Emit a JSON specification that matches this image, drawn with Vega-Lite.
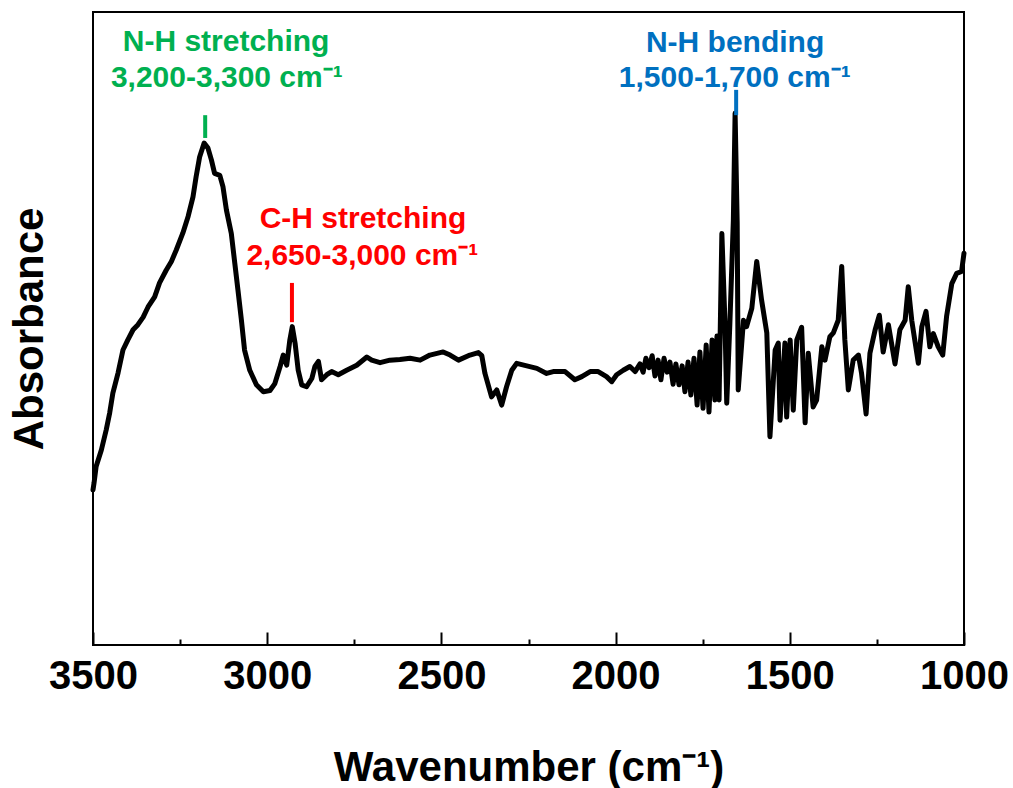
{
  "$schema": "https://vega.github.io/schema/vega-lite/v6.json",
  "width": 871,
  "height": 633,
  "autosize": {"type": "none"},
  "padding": {"left": 93, "top": 12, "right": 49, "bottom": 143},
  "config": {
    "view": {"stroke": "#000", "strokeWidth": 2},
    "axis": {"grid": false},
    "font": "Liberation Sans"
  },
  "datasets": {
    "spectrum": [
      {"wavenumber": 3500, "absorbance": 0.245},
      {"wavenumber": 3497, "absorbance": 0.256},
      {"wavenumber": 3491, "absorbance": 0.282},
      {"wavenumber": 3476, "absorbance": 0.308},
      {"wavenumber": 3462, "absorbance": 0.340},
      {"wavenumber": 3452, "absorbance": 0.367},
      {"wavenumber": 3443, "absorbance": 0.398},
      {"wavenumber": 3428, "absorbance": 0.430},
      {"wavenumber": 3414, "absorbance": 0.466},
      {"wavenumber": 3400, "absorbance": 0.482},
      {"wavenumber": 3385, "absorbance": 0.498},
      {"wavenumber": 3371, "absorbance": 0.506},
      {"wavenumber": 3356, "absorbance": 0.518},
      {"wavenumber": 3342, "absorbance": 0.534},
      {"wavenumber": 3323, "absorbance": 0.550},
      {"wavenumber": 3309, "absorbance": 0.572},
      {"wavenumber": 3290, "absorbance": 0.592},
      {"wavenumber": 3275, "absorbance": 0.606},
      {"wavenumber": 3261, "absorbance": 0.624},
      {"wavenumber": 3242, "absorbance": 0.651},
      {"wavenumber": 3227, "absorbance": 0.677},
      {"wavenumber": 3213, "absorbance": 0.708},
      {"wavenumber": 3204, "absorbance": 0.740},
      {"wavenumber": 3194, "absorbance": 0.771},
      {"wavenumber": 3181, "absorbance": 0.793},
      {"wavenumber": 3170, "absorbance": 0.785},
      {"wavenumber": 3160, "absorbance": 0.766},
      {"wavenumber": 3151, "absorbance": 0.745},
      {"wavenumber": 3136, "absorbance": 0.742},
      {"wavenumber": 3127, "absorbance": 0.724},
      {"wavenumber": 3117, "absorbance": 0.687},
      {"wavenumber": 3103, "absorbance": 0.650},
      {"wavenumber": 3093, "absorbance": 0.603},
      {"wavenumber": 3084, "absorbance": 0.561},
      {"wavenumber": 3074, "absorbance": 0.513},
      {"wavenumber": 3065, "absorbance": 0.466},
      {"wavenumber": 3050, "absorbance": 0.434},
      {"wavenumber": 3031, "absorbance": 0.411},
      {"wavenumber": 3011, "absorbance": 0.400},
      {"wavenumber": 2992, "absorbance": 0.402},
      {"wavenumber": 2978, "absorbance": 0.413},
      {"wavenumber": 2963, "absorbance": 0.440},
      {"wavenumber": 2954, "absorbance": 0.458},
      {"wavenumber": 2944, "absorbance": 0.442},
      {"wavenumber": 2935, "absorbance": 0.482},
      {"wavenumber": 2928, "absorbance": 0.503},
      {"wavenumber": 2920, "absorbance": 0.477},
      {"wavenumber": 2911, "absorbance": 0.434},
      {"wavenumber": 2901, "absorbance": 0.411},
      {"wavenumber": 2887, "absorbance": 0.408},
      {"wavenumber": 2872, "absorbance": 0.421},
      {"wavenumber": 2863, "absorbance": 0.440},
      {"wavenumber": 2853, "absorbance": 0.448},
      {"wavenumber": 2844, "absorbance": 0.419},
      {"wavenumber": 2829, "absorbance": 0.427},
      {"wavenumber": 2815, "absorbance": 0.432},
      {"wavenumber": 2796, "absorbance": 0.427},
      {"wavenumber": 2772, "absorbance": 0.434},
      {"wavenumber": 2743, "absorbance": 0.442},
      {"wavenumber": 2714, "absorbance": 0.455},
      {"wavenumber": 2700, "absorbance": 0.450},
      {"wavenumber": 2676, "absorbance": 0.446},
      {"wavenumber": 2648, "absorbance": 0.450},
      {"wavenumber": 2619, "absorbance": 0.451},
      {"wavenumber": 2590, "absorbance": 0.453},
      {"wavenumber": 2561, "absorbance": 0.450},
      {"wavenumber": 2533, "absorbance": 0.458},
      {"wavenumber": 2495, "absorbance": 0.463},
      {"wavenumber": 2475, "absorbance": 0.458},
      {"wavenumber": 2451, "absorbance": 0.450},
      {"wavenumber": 2418, "absorbance": 0.458},
      {"wavenumber": 2394, "absorbance": 0.462},
      {"wavenumber": 2384, "absorbance": 0.457},
      {"wavenumber": 2375, "absorbance": 0.429},
      {"wavenumber": 2356, "absorbance": 0.392},
      {"wavenumber": 2341, "absorbance": 0.403},
      {"wavenumber": 2327, "absorbance": 0.379},
      {"wavenumber": 2313, "absorbance": 0.408},
      {"wavenumber": 2298, "absorbance": 0.434},
      {"wavenumber": 2284, "absorbance": 0.445},
      {"wavenumber": 2255, "absorbance": 0.441},
      {"wavenumber": 2226, "absorbance": 0.437},
      {"wavenumber": 2198, "absorbance": 0.429},
      {"wavenumber": 2179, "absorbance": 0.432},
      {"wavenumber": 2145, "absorbance": 0.432},
      {"wavenumber": 2117, "absorbance": 0.419},
      {"wavenumber": 2097, "absorbance": 0.424},
      {"wavenumber": 2073, "absorbance": 0.432},
      {"wavenumber": 2050, "absorbance": 0.432},
      {"wavenumber": 2026, "absorbance": 0.424},
      {"wavenumber": 2011, "absorbance": 0.416},
      {"wavenumber": 1997, "absorbance": 0.427},
      {"wavenumber": 1978, "absorbance": 0.434},
      {"wavenumber": 1959, "absorbance": 0.440},
      {"wavenumber": 1944, "absorbance": 0.432},
      {"wavenumber": 1930, "absorbance": 0.444},
      {"wavenumber": 1921, "absorbance": 0.431},
      {"wavenumber": 1913, "absorbance": 0.453},
      {"wavenumber": 1904, "absorbance": 0.438},
      {"wavenumber": 1895, "absorbance": 0.457},
      {"wavenumber": 1887, "absorbance": 0.425},
      {"wavenumber": 1878, "absorbance": 0.450},
      {"wavenumber": 1870, "absorbance": 0.419},
      {"wavenumber": 1861, "absorbance": 0.453},
      {"wavenumber": 1852, "absorbance": 0.431},
      {"wavenumber": 1844, "absorbance": 0.447},
      {"wavenumber": 1835, "absorbance": 0.412},
      {"wavenumber": 1827, "absorbance": 0.444},
      {"wavenumber": 1818, "absorbance": 0.411},
      {"wavenumber": 1809, "absorbance": 0.441},
      {"wavenumber": 1801, "absorbance": 0.400},
      {"wavenumber": 1792, "absorbance": 0.447},
      {"wavenumber": 1784, "absorbance": 0.395},
      {"wavenumber": 1775, "absorbance": 0.453},
      {"wavenumber": 1766, "absorbance": 0.379},
      {"wavenumber": 1758, "absorbance": 0.463},
      {"wavenumber": 1749, "absorbance": 0.374},
      {"wavenumber": 1740, "absorbance": 0.474},
      {"wavenumber": 1732, "absorbance": 0.368},
      {"wavenumber": 1723, "absorbance": 0.482},
      {"wavenumber": 1715, "absorbance": 0.387},
      {"wavenumber": 1709, "absorbance": 0.488},
      {"wavenumber": 1703, "absorbance": 0.387},
      {"wavenumber": 1695, "absorbance": 0.650},
      {"wavenumber": 1686, "absorbance": 0.508},
      {"wavenumber": 1681, "absorbance": 0.382},
      {"wavenumber": 1672, "absorbance": 0.508},
      {"wavenumber": 1662, "absorbance": 0.671},
      {"wavenumber": 1657, "absorbance": 0.840},
      {"wavenumber": 1651, "absorbance": 0.666},
      {"wavenumber": 1648, "absorbance": 0.403},
      {"wavenumber": 1633, "absorbance": 0.513},
      {"wavenumber": 1624, "absorbance": 0.503},
      {"wavenumber": 1609, "absorbance": 0.532},
      {"wavenumber": 1595, "absorbance": 0.606},
      {"wavenumber": 1581, "absorbance": 0.545},
      {"wavenumber": 1566, "absorbance": 0.493},
      {"wavenumber": 1557, "absorbance": 0.329},
      {"wavenumber": 1542, "absorbance": 0.466},
      {"wavenumber": 1533, "absorbance": 0.477},
      {"wavenumber": 1528, "absorbance": 0.355},
      {"wavenumber": 1514, "absorbance": 0.477},
      {"wavenumber": 1509, "absorbance": 0.360},
      {"wavenumber": 1499, "absorbance": 0.482},
      {"wavenumber": 1490, "absorbance": 0.371},
      {"wavenumber": 1480, "absorbance": 0.482},
      {"wavenumber": 1466, "absorbance": 0.502},
      {"wavenumber": 1456, "absorbance": 0.351},
      {"wavenumber": 1447, "absorbance": 0.461},
      {"wavenumber": 1433, "absorbance": 0.376},
      {"wavenumber": 1423, "absorbance": 0.387},
      {"wavenumber": 1408, "absorbance": 0.471},
      {"wavenumber": 1399, "absorbance": 0.450},
      {"wavenumber": 1385, "absorbance": 0.487},
      {"wavenumber": 1375, "absorbance": 0.493},
      {"wavenumber": 1361, "absorbance": 0.513},
      {"wavenumber": 1351, "absorbance": 0.598},
      {"wavenumber": 1342, "absorbance": 0.482},
      {"wavenumber": 1332, "absorbance": 0.403},
      {"wavenumber": 1318, "absorbance": 0.450},
      {"wavenumber": 1303, "absorbance": 0.458},
      {"wavenumber": 1294, "absorbance": 0.429},
      {"wavenumber": 1281, "absorbance": 0.365},
      {"wavenumber": 1270, "absorbance": 0.461},
      {"wavenumber": 1255, "absorbance": 0.498},
      {"wavenumber": 1243, "absorbance": 0.521},
      {"wavenumber": 1232, "absorbance": 0.463},
      {"wavenumber": 1217, "absorbance": 0.506},
      {"wavenumber": 1198, "absorbance": 0.444},
      {"wavenumber": 1184, "absorbance": 0.498},
      {"wavenumber": 1169, "absorbance": 0.513},
      {"wavenumber": 1160, "absorbance": 0.566},
      {"wavenumber": 1150, "absorbance": 0.513},
      {"wavenumber": 1131, "absorbance": 0.445},
      {"wavenumber": 1121, "absorbance": 0.503},
      {"wavenumber": 1109, "absorbance": 0.527},
      {"wavenumber": 1098, "absorbance": 0.471},
      {"wavenumber": 1088, "absorbance": 0.492},
      {"wavenumber": 1074, "absorbance": 0.471},
      {"wavenumber": 1061, "absorbance": 0.458},
      {"wavenumber": 1050, "absorbance": 0.519},
      {"wavenumber": 1035, "absorbance": 0.571},
      {"wavenumber": 1021, "absorbance": 0.587},
      {"wavenumber": 1007, "absorbance": 0.590},
      {"wavenumber": 1000, "absorbance": 0.619}
    ],
    "markers": [
      {"band": "N-H stretching", "wavenumber": 3178, "absorbance": 0.837, "absorbance2": 0.801},
      {"band": "C-H stretching", "wavenumber": 2929, "absorbance": 0.572, "absorbance2": 0.510},
      {"band": "N-H bending", "wavenumber": 1654, "absorbance": 0.877, "absorbance2": 0.837}
    ],
    "labels": [
      {"band": "N-H stretching", "wavenumber": 3118, "absorbance": 0.938, "text": "N-H stretching"},
      {"band": "N-H stretching", "wavenumber": 3116, "absorbance": 0.881, "text": "3,200-3,300 cm⁻¹"},
      {"band": "C-H stretching", "wavenumber": 2725, "absorbance": 0.659, "text": "C-H stretching"},
      {"band": "C-H stretching", "wavenumber": 2727, "absorbance": 0.600, "text": "2,650-3,000 cm⁻¹"},
      {"band": "N-H bending", "wavenumber": 1657, "absorbance": 0.937, "text": "N-H bending"},
      {"band": "N-H bending", "wavenumber": 1658, "absorbance": 0.881, "text": "1,500-1,700 cm⁻¹"}
    ],
    "topTicks": [
      {"wavenumber": 1000}, {"wavenumber": 1250}, {"wavenumber": 1500}, {"wavenumber": 1750},
      {"wavenumber": 2000}, {"wavenumber": 2250}, {"wavenumber": 2500}, {"wavenumber": 2750},
      {"wavenumber": 3000}, {"wavenumber": 3250}, {"wavenumber": 3500}
    ]
  },
  "encoding": {
    "x": {
      "field": "wavenumber",
      "type": "quantitative",
      "scale": {"domain": [1000, 3500], "reverse": true, "nice": false, "zero": false},
      "axis": {
        "orient": "bottom",
        "values": [1000, 1250, 1500, 1750, 2000, 2250, 2500, 2750, 3000, 3250, 3500],
        "labelExpr": "datum.value % 500 === 0 ? datum.value : ''",
        "tickSize": {"condition": {"test": "datum.value % 500 === 0", "value": -13}, "value": -6},
        "tickWidth": 2,
        "tickColor": "#000",
        "domain": false,
        "labelFontSize": 40,
        "labelFontWeight": "bold",
        "labelColor": "#000",
        "labelPadding": 24,
        "labelOverlap": false,
        "labelFlush": false,
        "title": "Wavenumber (cm⁻¹)",
        "titleFontSize": 42,
        "titleFontWeight": "bold",
        "titleColor": "#000",
        "titlePadding": 44
      }
    },
    "y": {
      "field": "absorbance",
      "type": "quantitative",
      "scale": {"domain": [0, 1], "nice": false, "zero": false},
      "axis": {
        "ticks": false,
        "labels": false,
        "domain": false,
        "title": "Absorbance",
        "titleFontSize": 42,
        "titleFontWeight": "bold",
        "titleColor": "#000",
        "titlePadding": 42
      }
    },
    "color": {
      "field": "band",
      "type": "nominal",
      "scale": {"domain": ["N-H stretching", "C-H stretching", "N-H bending"], "range": ["#00B050", "#FF0000", "#0070C0"]},
      "legend": null
    }
  },
  "layer": [
    {
      "data": {"name": "topTicks"},
      "mark": {"type": "tick", "orient": "vertical", "thickness": 2, "clip": true, "opacity": 1},
      "encoding": {
        "y": {"datum": 1},
        "color": {"value": "#000"},
        "size": {"condition": {"test": "datum.wavenumber % 500 === 0", "value": 26}, "value": 12}
      }
    },
    {
      "data": {"name": "spectrum"},
      "mark": {"type": "line", "strokeWidth": 5, "strokeJoin": "round", "strokeCap": "round"},
      "encoding": {"color": {"value": "#000"}}
    },
    {
      "data": {"name": "labels"},
      "mark": {"type": "text", "fontSize": 30, "fontWeight": "bold", "align": "center", "baseline": "alphabetic"},
      "encoding": {"text": {"field": "text"}}
    },
    {
      "data": {"name": "markers"},
      "mark": {"type": "rule", "strokeWidth": 4},
      "encoding": {"y2": {"field": "absorbance2"}}
    }
  ]
}
